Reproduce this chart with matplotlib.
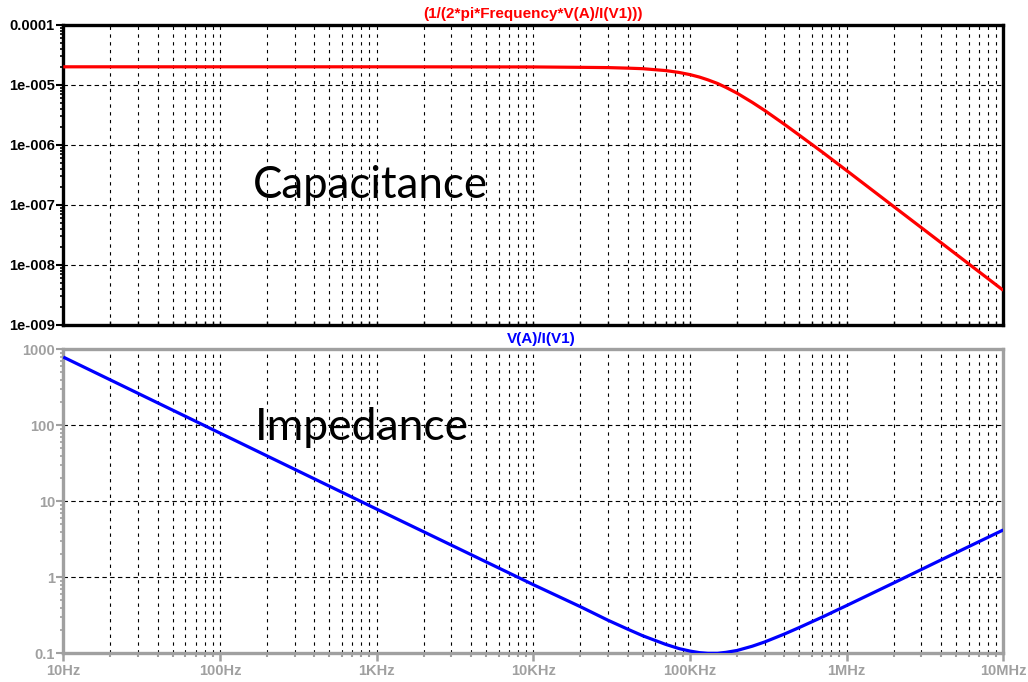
import matplotlib
matplotlib.use("Agg")
import matplotlib.pyplot as plt
from matplotlib.ticker import FixedLocator, FixedFormatter, NullFormatter

# ---- data ----
freq_hz = [10, 100, 1e3, 1e4, 2e4, 3e4, 4e4, 5e4, 7e4, 8.5e4, 1e5, 1.15e5, 1.3e5, 1.5e5,
           1.7e5, 2e5, 2.5e5, 3e5, 4e5, 5e5, 7e5, 1e6, 2e6, 4e6, 1e7]
impedance_ohm = [790, 79, 7.9, 0.80, 0.41, 0.272, 0.208, 0.170, 0.131, 0.1155, 0.107, 0.102,
                 0.100, 0.100, 0.103, 0.109, 0.124, 0.141, 0.179, 0.219, 0.300, 0.425, 0.844,
                 1.69, 4.2]
capacitance_f = [2.01e-5, 2.01e-5, 2.01e-5, 2.0e-5, 1.97e-5, 1.95e-5, 1.91e-5, 1.87e-5, 1.74e-5,
                 1.62e-5, 1.49e-5, 1.355e-5, 1.22e-5, 1.06e-5, 9.1e-6, 7.3e-6, 5.13e-6, 3.76e-6,
                 2.22e-6, 1.45e-6, 7.6e-7, 3.75e-7, 9.4e-8, 2.36e-8, 3.78e-9]

x_ticks = [10, 100, 1e3, 1e4, 1e5, 1e6, 1e7]
x_tick_labels = ["10Hz", "100Hz", "1KHz", "10KHz", "100KHz", "1MHz", "10MHz"]
cap_ticks = [1e-9, 1e-8, 1e-7, 1e-6, 1e-5, 1e-4]
cap_tick_labels = ["1e-009", "1e-008", "1e-007", "1e-006", "1e-005", "0.0001"]
imp_ticks = [0.1, 1, 10, 100, 1000]
imp_tick_labels = ["0.1", "1", "10", "100", "1000"]

top_title = "(1/(2*pi*Frequency*V(A)/I(V1)))"
bottom_title = "V(A)/I(V1)"

W, H = 1028, 682
fig = plt.figure(figsize=(W / 100, H / 100), dpi=100)
fig.patch.set_facecolor("white")

def fx(px):
    return px / W

def fy(py):
    return 1 - py / H

left, right = 63.3, 1003.3
ax1 = fig.add_axes([fx(left), fy(325), fx(right - left), (325 - 25) / H])
ax2 = fig.add_axes([fx(left), fy(653.3), fx(right - left), (653.3 - 349.3) / H])

def minor_positions(lo, hi):
    out = []
    d = lo
    while d < hi:
        for m in range(2, 10):
            out.append(d * m)
        d *= 10
    return out

xminor = minor_positions(10, 1e7)

tick_font = dict(family="Liberation Sans", weight="bold", size=10.5)

for ax, ycol, ticks, labels, ymin, ymax in [
    (ax1, "black", cap_ticks, cap_tick_labels, 1e-9, 1e-4),
    (ax2, "#a0a0a0", imp_ticks, imp_tick_labels, 0.1, 1000),
]:
    ax.set_xscale("log")
    ax.set_yscale("log")
    ax.set_xlim(10, 1e7)
    ax.set_ylim(ymin, ymax)
    for s in ax.spines.values():
        s.set_color(ycol)
        s.set_linewidth(2.4)
    ax.xaxis.set_major_locator(FixedLocator(x_ticks))
    ax.xaxis.set_minor_locator(FixedLocator(xminor))
    ax.yaxis.set_major_locator(FixedLocator(ticks))
    ax.yaxis.set_major_formatter(FixedFormatter(labels))
    ax.yaxis.set_minor_locator(FixedLocator(minor_positions(ymin, ymax)))
    ax.yaxis.set_minor_formatter(NullFormatter())
    ax.xaxis.set_minor_formatter(NullFormatter())
    ax.tick_params(axis="y", which="major", direction="out", length=5, width=1.5,
                   color=ycol, labelcolor=ycol, pad=1)
    ax.tick_params(axis="y", which="minor", direction="out", length=2.5, width=1.2, color=ycol)
    for lab in ax.get_yticklabels():
        lab.set_fontproperties(tick_font)
    ax.grid(True, which="both", axis="x", color="black", lw=0.8, ls=(0, (3, 4)))
    ax.grid(True, which="major", axis="y", color="black", lw=0.8, ls=(0, (4, 3)))
    ax.set_axisbelow(True)

# top axes: no x labels
ax1.xaxis.set_major_formatter(NullFormatter())
ax1.tick_params(axis="x", which="both", direction="in", length=3, width=1, color="black")

ax2.xaxis.set_major_formatter(FixedFormatter(x_tick_labels))
ax2.tick_params(axis="x", which="major", direction="out", length=6, width=1.8,
                color="#a0a0a0", labelcolor="#a0a0a0", pad=2)
ax2.tick_params(axis="x", which="minor", direction="out", length=3, width=1.5, color="#a0a0a0")
for lab in ax2.get_xticklabels():
    lab.set_fontproperties(tick_font)

ax1.plot(freq_hz, capacitance_f, color="#ff0000", lw=2.3, solid_capstyle="butt", zorder=3)
ax2.plot(freq_hz, impedance_ohm, color="#0000ff", lw=2.3, solid_capstyle="butt", zorder=3)

fig.text(fx(533), fy(14), top_title, color="#ff0000", ha="center", va="center",
         family="Liberation Sans", weight="bold", size=11)
fig.text(fx(541), fy(339), bottom_title, color="#0000ff", ha="center", va="center",
         family="Liberation Sans", weight="bold", size=11)

fig.text(fx(253), fy(185), "Capacitance", color="black", ha="left", va="center",
         family="Lato", size=31.5)
fig.text(fx(255), fy(428), "Impedance", color="black", ha="left", va="center",
         family="Lato", size=32)

fig.savefig("out.png", dpi=100, facecolor="white")
